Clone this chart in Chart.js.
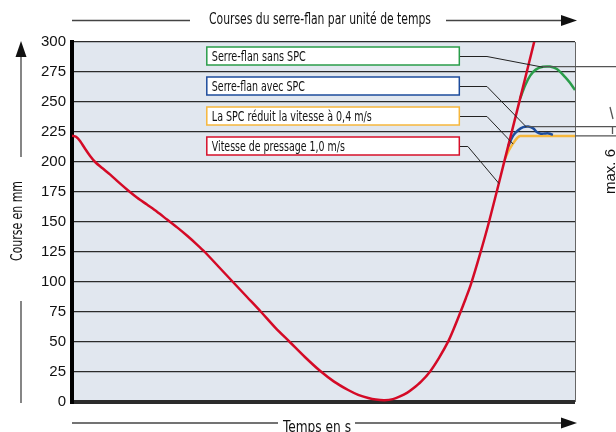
<!DOCTYPE html>
<html>
<head>
<meta charset="utf-8">
<script src="https://cdn.jsdelivr.net/npm/chart.js@4/dist/chart.umd.min.js"></script>
<style>
  html, body { margin: 0; padding: 0; background: #fff; }
</style>
</head>
<body>
<canvas id="course-graph" width="616" height="432"></canvas>
<script>
// Noms des courbes (cadres de légende, de haut en bas)
const seriesNames = ["Serre-flan sans SPC", "Serre-flan avec SPC", "La SPC réduit la vitesse à 0,4 m/s", "Vitesse de pressage 1,0 m/s"];

// Vitesse de pressage 1,0 m/s (coulisseau)
const pressX = [0, 0.8, 1.6, 2.6, 3.6, 4.6, 6.0, 7.6, 9.3, 11.1, 12.9, 14.9, 16.9, 18.9, 20.9, 22.9, 24.9, 26.4,
  29.2, 32.0, 34.8, 37.6, 40.4, 43.3, 46.3, 49.3, 52.1, 54.9, 56.9, 58.9, 60.4, 62.2, 63.8, 65.2, 66.6, 67.8,
  69.4, 71.2, 73.0, 74.8, 75.9, 77.1, 78.3, 79.3, 81.1, 82.9, 86.1, 89.1, 92.0, 93.0];
const pressY = [222, 221, 217.5, 211, 205, 200, 195, 189.5, 183, 176.5, 170.5, 164.5, 158.5, 152, 145.5, 138.5, 131, 125,
  112.5, 100, 87.5, 75, 62, 50, 37.5, 26, 17, 10, 6, 3.3, 2, 1.5, 2.4, 4.6, 7.6, 11.2,
  17, 25.5, 37, 50.5, 61, 73.5, 86.5, 98, 123, 150, 203, 253, 302, 319];

// Serre-flan sans SPC
const sansX = [89.1, 90.1, 91.1, 92.2, 93.6, 95.0, 96.4, 98.0, 99.0, 100];
const sansY = [253, 264, 272, 277, 279.3, 279.5, 277.5, 271, 266, 260];

// Serre-flan avec SPC
const avecX = [86.7, 87.7, 88.7, 89.7, 90.7, 91.7, 92.4, 93.2, 94.0, 94.8, 95.6];
const avecY = [213, 222, 226.5, 229, 229.6, 228, 225, 223.5, 223.8, 223.8, 222.6];

// La SPC réduit la vitesse à 0,4 m/s
const spcX = [86.1, 86.9, 87.7, 88.5, 89.1, 100];
const spcY = [203, 210, 215.5, 220, 221.7, 221.7];

// graduations de l'axe des courses
const yMin = 0, yMax = 300, yStep = 25;

function points(xs, ys) {
  return xs.map((x, i) => ({ x: x, y: ys[i] }));
}

const narrow = '"Liberation Sans Narrow", "DejaVu Sans Condensed", "Roboto Condensed", "Liberation Sans", sans-serif';

function arrowHead(ctx, x, y, dir) {
  ctx.beginPath();
  if (dir === 'right') {
    ctx.moveTo(x, y); ctx.lineTo(x - 16, y - 5.5); ctx.lineTo(x - 16, y + 5.5);
  } else {
    ctx.moveTo(x, y); ctx.lineTo(x - 5.5, y + 16); ctx.lineTo(x + 5.5, y + 16);
  }
  ctx.closePath();
  ctx.fill();
}

function seg(ctx, x1, y1, x2, y2) {
  ctx.beginPath(); ctx.moveTo(x1, y1); ctx.lineTo(x2, y2); ctx.stroke();
}

const decor = {
  id: 'decor',
  beforeDraw(chart) {
    const { ctx, chartArea: a } = chart;
    ctx.save();
    ctx.fillStyle = '#e1e7ef';
    ctx.fillRect(a.left, a.top, a.right - a.left, a.bottom - a.top);
    ctx.restore();
  },
  afterDraw(chart) {
    const { ctx, chartArea: a } = chart;
    const xs = chart.scales.x, ys = chart.scales.y;
    const W = chart.width;
    ctx.save();

    // bord droit
    ctx.strokeStyle = '#666'; ctx.lineWidth = 1;
    seg(ctx, a.right + 0.5, a.top, a.right + 0.5, a.bottom);

    // lignes de cote vers la droite
    ctx.strokeStyle = '#555'; ctx.lineWidth = 1.2;
    seg(ctx, xs.getPixelForValue(93.4), ys.getPixelForValue(279.5), W, ys.getPixelForValue(279.5));
    seg(ctx, xs.getPixelForValue(90.2), ys.getPixelForValue(229.5), W, ys.getPixelForValue(229.5));
    seg(ctx, a.right, ys.getPixelForValue(221.7), W, ys.getPixelForValue(221.7));
    ctx.lineWidth = 1.3;
    seg(ctx, 610, 107, 613, 119);
    seg(ctx, 612.5, 127, 612.5, 134);

    // cote "max. 6"
    ctx.fillStyle = '#111';
    ctx.font = '15px "Liberation Sans", Arial, sans-serif';
    ctx.save();
    ctx.translate(615, 194);
    ctx.rotate(-Math.PI / 2);
    ctx.textAlign = 'left'; ctx.textBaseline = 'alphabetic';
    ctx.fillText('max. 6', 0, 0);
    ctx.restore();

    // cadres de légende + traits de rappel
    const boxColors = ['#2a9d4a', '#1d4c9c', '#f6b73c', '#d6102a'];
    const maxW = [94, 93, 160, 133];
    const elbowX = [82.5, 82.5, 82.5, 78.7];
    const anchors = [[93.6, 279], [90.3, 229.3], [87.7, 215], [84.9, 182]];
    const left = xs.getPixelForValue(26.8), right = xs.getPixelForValue(77);
    seriesNames.forEach((name, i) => {
      const cy = Math.round(ys.getPixelForValue(287.5 - yStep * i)) - 1;
      const h = 18;
      ctx.strokeStyle = '#222'; ctx.lineWidth = 1;
      ctx.beginPath();
      ctx.moveTo(right, cy + 0.5);
      ctx.lineTo(xs.getPixelForValue(elbowX[i]), cy + 0.5);
      ctx.lineTo(xs.getPixelForValue(anchors[i][0]), ys.getPixelForValue(anchors[i][1]));
      ctx.stroke();
      ctx.fillStyle = '#fff';
      ctx.fillRect(left, cy - h / 2, right - left, h);
      ctx.strokeStyle = boxColors[i]; ctx.lineWidth = 1.5;
      ctx.strokeRect(left, cy - h / 2, right - left, h);
      ctx.fillStyle = '#111';
      ctx.font = '14px ' + narrow;
      ctx.textAlign = 'left'; ctx.textBaseline = 'middle';
      ctx.fillText(name, left + 5, cy + 1, maxW[i]);
    });

    ctx.fillStyle = '#111';
    ctx.strokeStyle = '#444'; ctx.lineWidth = 1.3;

    // titre du haut
    seg(ctx, 72, 20.5, 190, 20.5);
    seg(ctx, 446, 20.5, 562, 20.5);
    arrowHead(ctx, 577, 20.5, 'right');
    ctx.font = '15px ' + narrow;
    ctx.textAlign = 'left'; ctx.textBaseline = 'middle';
    ctx.fillText('Courses du serre-flan par unité de temps', 209, 20, 222);

    // axe du temps
    seg(ctx, 72, 423, 278, 423);
    seg(ctx, 355, 423, 562, 423);
    arrowHead(ctx, 577, 423, 'right');
    ctx.textBaseline = 'alphabetic';
    ctx.fillText('Temps en s', 283, 432, 68);

    // axe des courses
    seg(ctx, 21, 56, 21, 157);
    seg(ctx, 21, 301, 21, 403);
    arrowHead(ctx, 21, 41, 'up');
    ctx.save();
    ctx.translate(18, 221);
    ctx.rotate(-Math.PI / 2);
    ctx.textAlign = 'center'; ctx.textBaseline = 'middle';
    ctx.fillText('Course en mm', 0, 0, 80);
    ctx.restore();

    ctx.restore();
  }
};

function courseGraph() {
  const graphId = document.getElementById('course-graph');

  const lineStyle = { fill: false, pointRadius: 0, borderWidth: 2.5, tension: 0.3 };

  new Chart(graphId, {
    type: 'line',
    data: {
      datasets: [
        Object.assign({ label: seriesNames[3], data: points(pressX, pressY), borderColor: '#d40a26', order: 0 }, lineStyle),
        Object.assign({ label: seriesNames[1], data: points(avecX, avecY), borderColor: '#1d4c9c', order: 1 }, lineStyle),
        Object.assign({ label: seriesNames[2], data: points(spcX, spcY), borderColor: '#f6b73c', order: 2 }, lineStyle, { cubicInterpolationMode: 'monotone' }),
        Object.assign({ label: seriesNames[0], data: points(sansX, sansY), borderColor: '#2a9d4a', order: 3 }, lineStyle)
      ]
    },
    options: {
      responsive: false,
      animation: false,
      layout: { padding: { left: 0, top: 42, right: 41, bottom: 30 } },
      plugins: { legend: { display: false }, tooltip: { enabled: false } },
      scales: {
        x: { type: 'linear', min: 0, max: 100, display: false },
        y: {
          min: yMin, max: yMax,
          afterFit: (scale) => { scale.width = 72; },
          ticks: {
            stepSize: yStep,
            color: '#111',
            padding: 6,
            font: { family: '"Liberation Sans", Arial, sans-serif', size: 15 }
          },
          grid: {
            drawTicks: false,
            color: '#2b2b2b',
            lineWidth: (c) => (c.tick && c.tick.value === 0 ? 4 : 1.3)
          },
          border: { display: true, color: '#000', width: 4 }
        }
      }
    },
    plugins: [decor]
  });
}

window.addEventListener('load', courseGraph);
</script>
</body>
</html>
